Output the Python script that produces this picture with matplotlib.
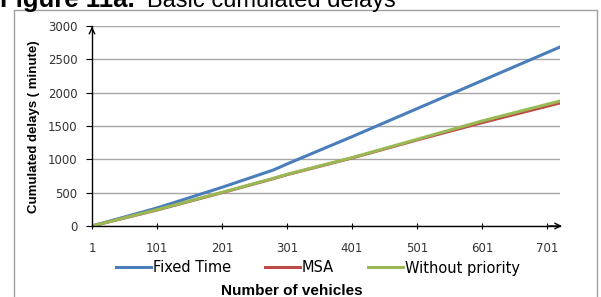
import matplotlib.pyplot as plt
from matplotlib.patches import Rectangle

# data
vehicles = [1, 101, 201, 280, 301, 401, 501, 601, 721]
fixed_time = [0, 270, 580, 840, 930, 1340, 1760, 2180, 2685]
msa = [0, 240, 500, 710, 770, 1020, 1290, 1550, 1845]
without_priority = [0, 245, 505, 715, 775, 1025, 1300, 1575, 1875]
xticks = [1, 101, 201, 301, 401, 501, 601, 701]
yticks = [0, 500, 1000, 1500, 2000, 2500, 3000]

W, H = 601, 297
fig = plt.figure(figsize=(W / 100, H / 100), dpi=100)

# outer frame of the figure box
fig.patches.append(Rectangle((14 / W, -0.1), (597 - 14) / W, 1 - 10 / H + 0.1,
                             transform=fig.transFigure, fill=False,
                             edgecolor='#a0a0a0', linewidth=1.0))

# caption at the top (cut by the page edge, as in the source)
fig.text(0.5 / W, 1 - 7 / H, 'Figure 11a.', fontsize=18.5, fontweight='bold',
         family='Liberation Sans', va='baseline', ha='left')
fig.text(147 / W, 1 - 7 / H, 'Basic cumulated delays', fontsize=17,
         family='Liberation Sans', va='baseline', ha='left')

ax = fig.add_axes([92 / W, 1 - 226 / H, (560 - 92) / W, 200 / H])
ax.plot(vehicles, fixed_time, color='#4a7ebb', lw=2.2, label='Fixed Time')
ax.plot(vehicles, msa, color='#be4b48', lw=2.2, label='MSA')
ax.plot(vehicles, without_priority, color='#98b954', lw=2.2, label='Without priority')

ax.set_xlim(1, 721)
ax.set_ylim(0, 3000)
ax.set_xticks(xticks)
ax.set_yticks(yticks)
ax.set_xticklabels([str(t) for t in xticks])
ax.grid(axis='y', color='#a6a6a6', lw=1.0)
ax.set_axisbelow(True)
for s in ['top', 'right']:
    ax.spines[s].set_visible(False)
for s in ['left', 'bottom']:
    ax.spines[s].set_color('black')
    ax.spines[s].set_linewidth(1.0)
ax.tick_params(axis='y', direction='out', length=4.5, labelsize=8.5,
               labelcolor='#333333', pad=6)
ax.tick_params(axis='x', direction='inout', length=5, labelsize=8.5,
               labelcolor='#333333', pad=9)

# arrow heads on the axes
ax.annotate('', xy=(0, 1.01), xytext=(0, 0.97), xycoords='axes fraction',
            arrowprops=dict(arrowstyle='->', color='black', lw=1.0))
ax.annotate('', xy=(1.01, 0), xytext=(0.97, 0), xycoords='axes fraction',
            arrowprops=dict(arrowstyle='->', color='black', lw=1.0))

fig.text(34 / W, 1 - 127 / H, 'Cumulated delays ( minute)', rotation=90,
         fontsize=9.5, fontweight='bold',
         family=['Liberation Sans Narrow', 'Liberation Sans'],
         ha='center', va='center')
fig.text(292 / W, 1 - 291 / H, 'Number of vehicles', fontsize=11,
         fontweight='bold', family='Liberation Sans', ha='center', va='center')

fig.legend(loc='center', bbox_to_anchor=(318 / W, 1 - 268 / H), ncol=3,
           frameon=False, fontsize=10.5, handlelength=2.4, handletextpad=0.15,
           columnspacing=2.3, borderpad=0, borderaxespad=0)

fig.savefig('out.png', dpi=100)
